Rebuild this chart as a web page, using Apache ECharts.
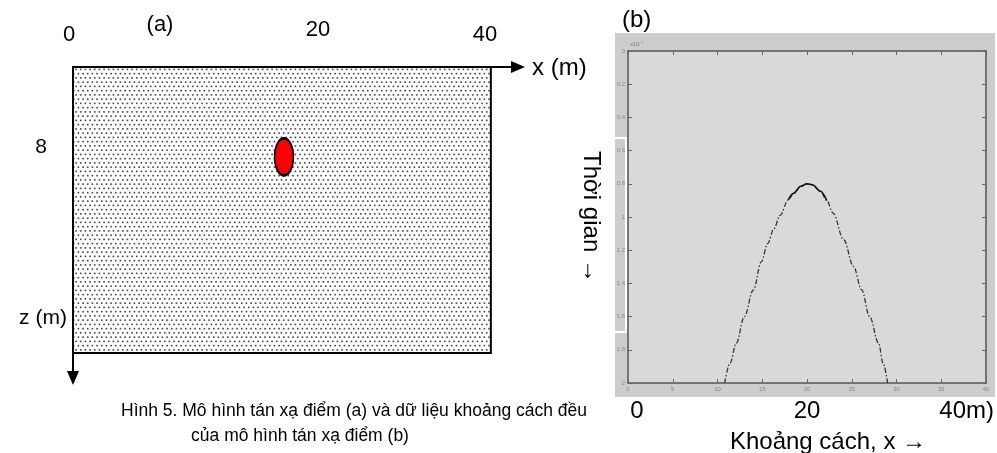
<!DOCTYPE html>
<html><head><meta charset="utf-8">
<script src="https://cdn.jsdelivr.net/npm/echarts/dist/echarts.min.js"></script>
<style>html,body{margin:0;padding:0;background:#fff}#c{width:997px;height:453px}</style>
</head><body><div id="c"></div>
<script>
// ---------- Panel (a): point scatterer model ----------
const modelXTickLabels = ['0', '20', '40'];
const modelZTickLabels = ['8'];
const modelAxisNames = ['x (m)', 'z (m)'];
const modelExtent = [[0, 0, 40, 28]];        // x0, z0, x1, z1 (m)
const scattererPos = [[20.2, 8.8]];          // x (m), z (m)
const panelTags = ['(a)', '(b)'];

// ---------- Panel (b): zero-offset data of point scatterer ----------
const distanceTicks = [0, 5, 10, 15, 20, 25, 30, 35, 40];
const timeTicks = [0, 0.2, 0.4, 0.6, 0.8, 1, 1.2, 1.4, 1.6, 1.8, 2];
const curveX = [10.8, 11.4, 12.1, 13.0, 14.0, 14.9, 15.6, 16.3, 17.0, 17.9, 18.5, 19.3, 20.0, 20.6, 21.5, 22.2, 22.9, 24.1, 25.2, 26.1, 27.0, 28.0, 28.5, 29.0];
const curveT = [2.0, 1.88, 1.76, 1.6, 1.44, 1.27, 1.16, 1.07, 0.99, 0.897, 0.857, 0.815, 0.8, 0.806, 0.845, 0.9, 0.975, 1.137, 1.298, 1.438, 1.6, 1.76, 1.88, 2.0];
const bottomLabels = ['0', '20', '40m)'];
const bAxisNames = ['Khoảng cách, x →', 'Thời gian →'];
const timeScaleNote = 'x10⁻⁷';
const captionLines = ['Hình 5. Mô hình tán xạ điểm (a) và dữ liệu khoảng cách đều', 'của mô hình tán xạ điểm (b)'];

const FONT = '"Liberation Sans", Arial, sans-serif';

function makeDots() {
  const W = 14, H = 17;
  const c = document.createElement('canvas');
  c.width = W; c.height = H;
  const g = c.getContext('2d');
  g.fillStyle = '#ffffff'; g.fillRect(0, 0, W, H);
  g.fillStyle = '#444444';
  for (let r = 0; r < 4; r++) {
    for (let k = 0; k < 3; k++) {
      const x = k * W / 3 + (r % 2 ? W / 6 : 0) + 0.6;
      const y = r * H / 4 + 0.6;
      g.fillRect(x, y, 1.6, 1.6);
    }
  }
  return c;
}
const dotPattern = { image: makeDots(), repeat: 'repeat' };

const chart = echarts.init(document.getElementById('c'), null, { renderer: 'canvas' });
const curveData = curveX.map((x, i) => [x, curveT[i]]);
const apexData = curveData.slice(9, 16);

function txt(text, x, y, size, align, extra) {
  return Object.assign({
    type: 'text', x: x, y: y, silent: true,
    style: { text: text, font: size + 'px ' + FONT, fill: '#000', align: align || 'center', verticalAlign: 'middle' }
  }, extra || {});
}

const bAxisCommon = {
  axisLine: { show: true, onZero: false, lineStyle: { color: '#555', width: 1.5 } },
  axisTick: { show: true, inside: true, length: 4, lineStyle: { color: '#666' } },
  splitLine: { show: false }
};

const option = {
  animation: false,
  backgroundColor: '#ffffff',
  grid: [
    { left: 73, top: 67, width: 445, height: 311, show: false },
    { left: 628, top: 51, width: 358, height: 332, show: true, backgroundColor: '#d9d9d9', borderWidth: 0 }
  ],
  xAxis: [
    { gridIndex: 0, type: 'value', position: 'top', min: 0, max: 42.6,
      axisLine: { show: true, onZero: false, lineStyle: { color: '#000', width: 2 }, symbol: ['none', 'triangle'], symbolSize: [12, 14] },
      axisTick: { show: false }, axisLabel: { show: false }, splitLine: { show: false } },
    Object.assign({ gridIndex: 1, type: 'value', position: 'bottom', min: 0, max: 40, interval: 5,
      axisLabel: { show: true, fontSize: 6, color: '#888', margin: 3, fontFamily: FONT } }, bAxisCommon),
    Object.assign({ gridIndex: 1, type: 'value', position: 'top', min: 0, max: 40, interval: 5,
      axisLabel: { show: false } }, bAxisCommon)
  ],
  yAxis: [
    { gridIndex: 0, type: 'value', inverse: true, min: 0, max: 30.45,
      axisLine: { show: true, onZero: false, lineStyle: { color: '#000', width: 2 }, symbol: ['triangle', 'none'], symbolSize: [12, 14] },
      axisTick: { show: false }, axisLabel: { show: false }, splitLine: { show: false } },
    Object.assign({ gridIndex: 1, type: 'value', inverse: true, min: 0, max: 2, interval: 0.2, position: 'left',
      axisLabel: { show: true, fontSize: 6, color: '#888', margin: 3, fontFamily: FONT } }, bAxisCommon),
    Object.assign({ gridIndex: 1, type: 'value', inverse: true, min: 0, max: 2, interval: 0.2, position: 'right',
      axisLabel: { show: false } }, bAxisCommon)
  ],
  series: [
    { type: 'custom', xAxisIndex: 0, yAxisIndex: 0, data: modelExtent, z: 1,
      renderItem: function (params, api) {
        const p0 = api.coord([api.value(0), api.value(1)]);
        const p1 = api.coord([api.value(2), api.value(3)]);
        return { type: 'rect', shape: { x: p0[0], y: p0[1], width: p1[0] - p0[0], height: p1[1] - p0[1] },
          style: { fill: dotPattern, stroke: '#000', lineWidth: 2 } };
      } },
    { type: 'scatter', xAxisIndex: 0, yAxisIndex: 0, data: scattererPos, z: 5,
      symbol: 'circle', symbolSize: [19, 37],
      itemStyle: { color: '#ff0000', borderColor: '#000', borderWidth: 2, opacity: 1 } },
    { type: 'line', xAxisIndex: 1, yAxisIndex: 1, data: curveData, symbol: 'none', smooth: 0.35, smoothMonotone: 'x',
      lineStyle: { color: '#333', width: 1.3, type: [5, 2, 1.5, 2] }, z: 3 },
    { type: 'line', xAxisIndex: 1, yAxisIndex: 1, data: apexData, symbol: 'none', smooth: 0.35, smoothMonotone: 'x',
      lineStyle: { color: '#111', width: 1.6 }, z: 4 }
  ],
  graphic: [
    { type: 'rect', z: -10, silent: true, shape: { x: 615, y: 33, width: 380, height: 364 }, style: { fill: '#cdcdcd' } },
    { type: 'polyline', z: 10, silent: true, shape: { points: [[614, 138], [626, 138], [626, 332], [614, 332]] }, style: { stroke: '#fff', lineWidth: 2, fill: null } },
    txt(modelXTickLabels[0], 69, 35, 22),
    txt(panelTags[0], 160, 25, 22),
    txt(modelXTickLabels[1], 318, 30, 22),
    txt(modelXTickLabels[2], 485, 35, 22),
    txt(modelAxisNames[0], 532, 68, 24, 'left'),
    txt(modelZTickLabels[0], 41, 147, 21),
    txt(modelAxisNames[1], 43, 318, 21),
    txt(captionLines[0], 354, 411, 17.5),
    txt(captionLines[1], 300, 436, 17.5),
    txt(panelTags[1], 622, 20, 24, 'left'),
    { type: 'text', x: 630, y: 44, silent: true, style: { text: timeScaleNote, font: '6px ' + FONT, fill: '#777', align: 'left', verticalAlign: 'middle' } },
    txt(bottomLabels[0], 637, 411, 24),
    txt(bottomLabels[1], 807, 411, 24),
    txt(bottomLabels[2], 994, 411, 24, 'right'),
    txt(bAxisNames[0], 828, 442, 24),
    txt(bAxisNames[1], 591, 217, 24, 'center', { rotation: -Math.PI / 2 })
  ]
};
chart.setOption(option);
</script>
</body></html>
